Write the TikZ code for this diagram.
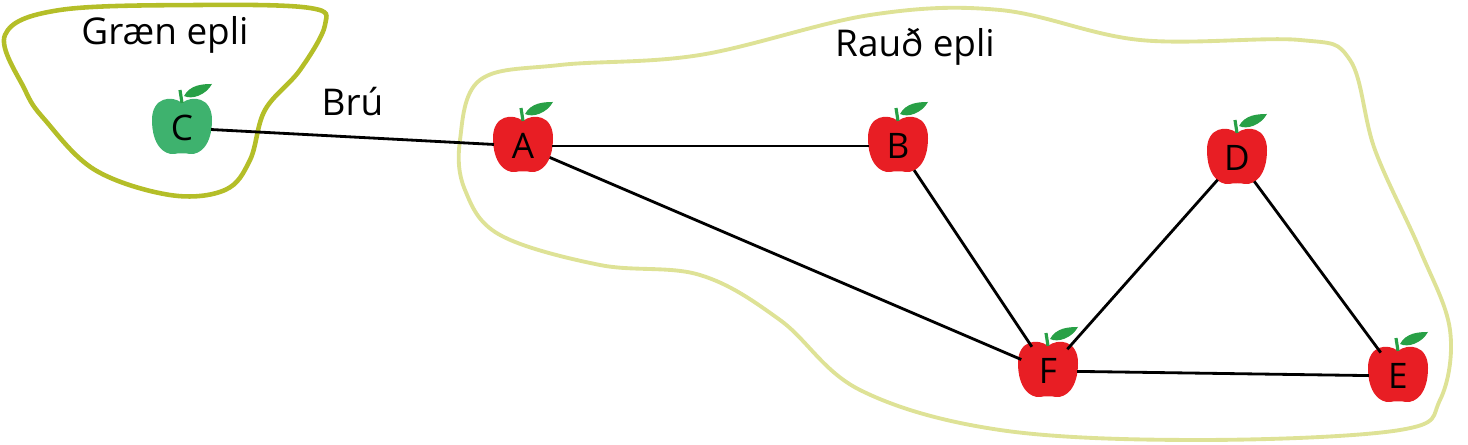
\documentclass[tikz,border=0pt]{standalone}
\usepackage{fontspec}
\setmainfont{Open Sans}
\usepackage{tikz}
\usetikzlibrary{positioning}

\definecolor{applered}{RGB}{232,30,36}
\definecolor{applegreen}{RGB}{62,178,110}
\definecolor{leafgreen}{RGB}{40,160,70}
\definecolor{greenset}{RGB}{180,190,40}
\definecolor{redset}{RGB}{222,226,150}

\tikzset{
  apple/.pic={
    \fill[#1] (0,22) .. controls (-10,30) and (-30,28) .. (-30,5)
      .. controls (-30,-20) and (-18,-30) .. (-8,-29)
      .. controls (-4,-28) and (4,-28) .. (8,-29)
      .. controls (18,-30) and (30,-20) .. (30,5)
      .. controls (30,28) and (10,30) .. (0,22);
    \draw[leafgreen, line width=1.8pt] (0,22) -- (-2,35);
    \fill[leafgreen] (2,29) .. controls (8,40) and (20,41) .. (30,41)
      .. controls (24,30) and (10,25) .. (2,29);
  },
  vertex/.style={circle, minimum size=1.15cm, inner sep=0pt, font=\fontsize{20}{24}\selectfont},
  link/.style={line width=1.6pt},
  setlabel/.style={font=\fontsize{21}{25}\selectfont}
}

\begin{document}
\begin{tikzpicture}[x=0.02cm, y=0.02cm]
  \useasboundingbox (0,0) rectangle (1468,445);

  % sets
  \draw[greenset, line width=2.6pt] plot[smooth cycle, tension=0.6] coordinates {
    (5,410) (60,435) (200,440) (310,437) (325,420) (300,375) (265,335)
    (250,285) (225,255) (170,250) (95,275) (45,325) (25,355)};
  \draw[redset, line width=2.2pt] plot[smooth cycle, tension=0.6] coordinates {
    (460,305) (480,365) (560,380) (700,390) (870,430) (1000,435) (1140,405)
    (1300,405) (1350,385) (1375,295) (1420,195) (1450,115) (1440,45) (1400,15)
    (1200,5) (1000,15) (860,55) (780,125) (700,170) (600,180) (500,210) (465,255)};

  % apples
  \pic at (182,320) {apple=applegreen};
  \foreach \x/\y in {523/302, 898/302, 1237/290, 1048/77, 1398/72}
    \pic at (\x,\y) {apple=applered};

  \node[vertex] (C) at (182,317) {C};
  \node[vertex] (A) at (523,299) {A};
  \node[vertex] (B) at (898,299) {B};
  \node[vertex] (D) at (1237,287) {D};
  \node[vertex] (F) at (1048,74) {F};
  \node[vertex] (E) at (1398,69) {E};

  \draw[link] (C) -- node[above=8pt, setlabel] {Brú} (A);
  \draw[link] (A) -- (B);
  \draw[link] (A) -- (F);
  \draw[link] (B) -- (F);
  \draw[link] (D) -- (F);
  \draw[link] (D) -- (E);
  \draw[link] (F) -- (E);

  \node[setlabel] (green) at (165,410) {Græn epli};
  \node[setlabel] (red) at (915,398) {Rauð epli};
\end{tikzpicture}
\end{document}
